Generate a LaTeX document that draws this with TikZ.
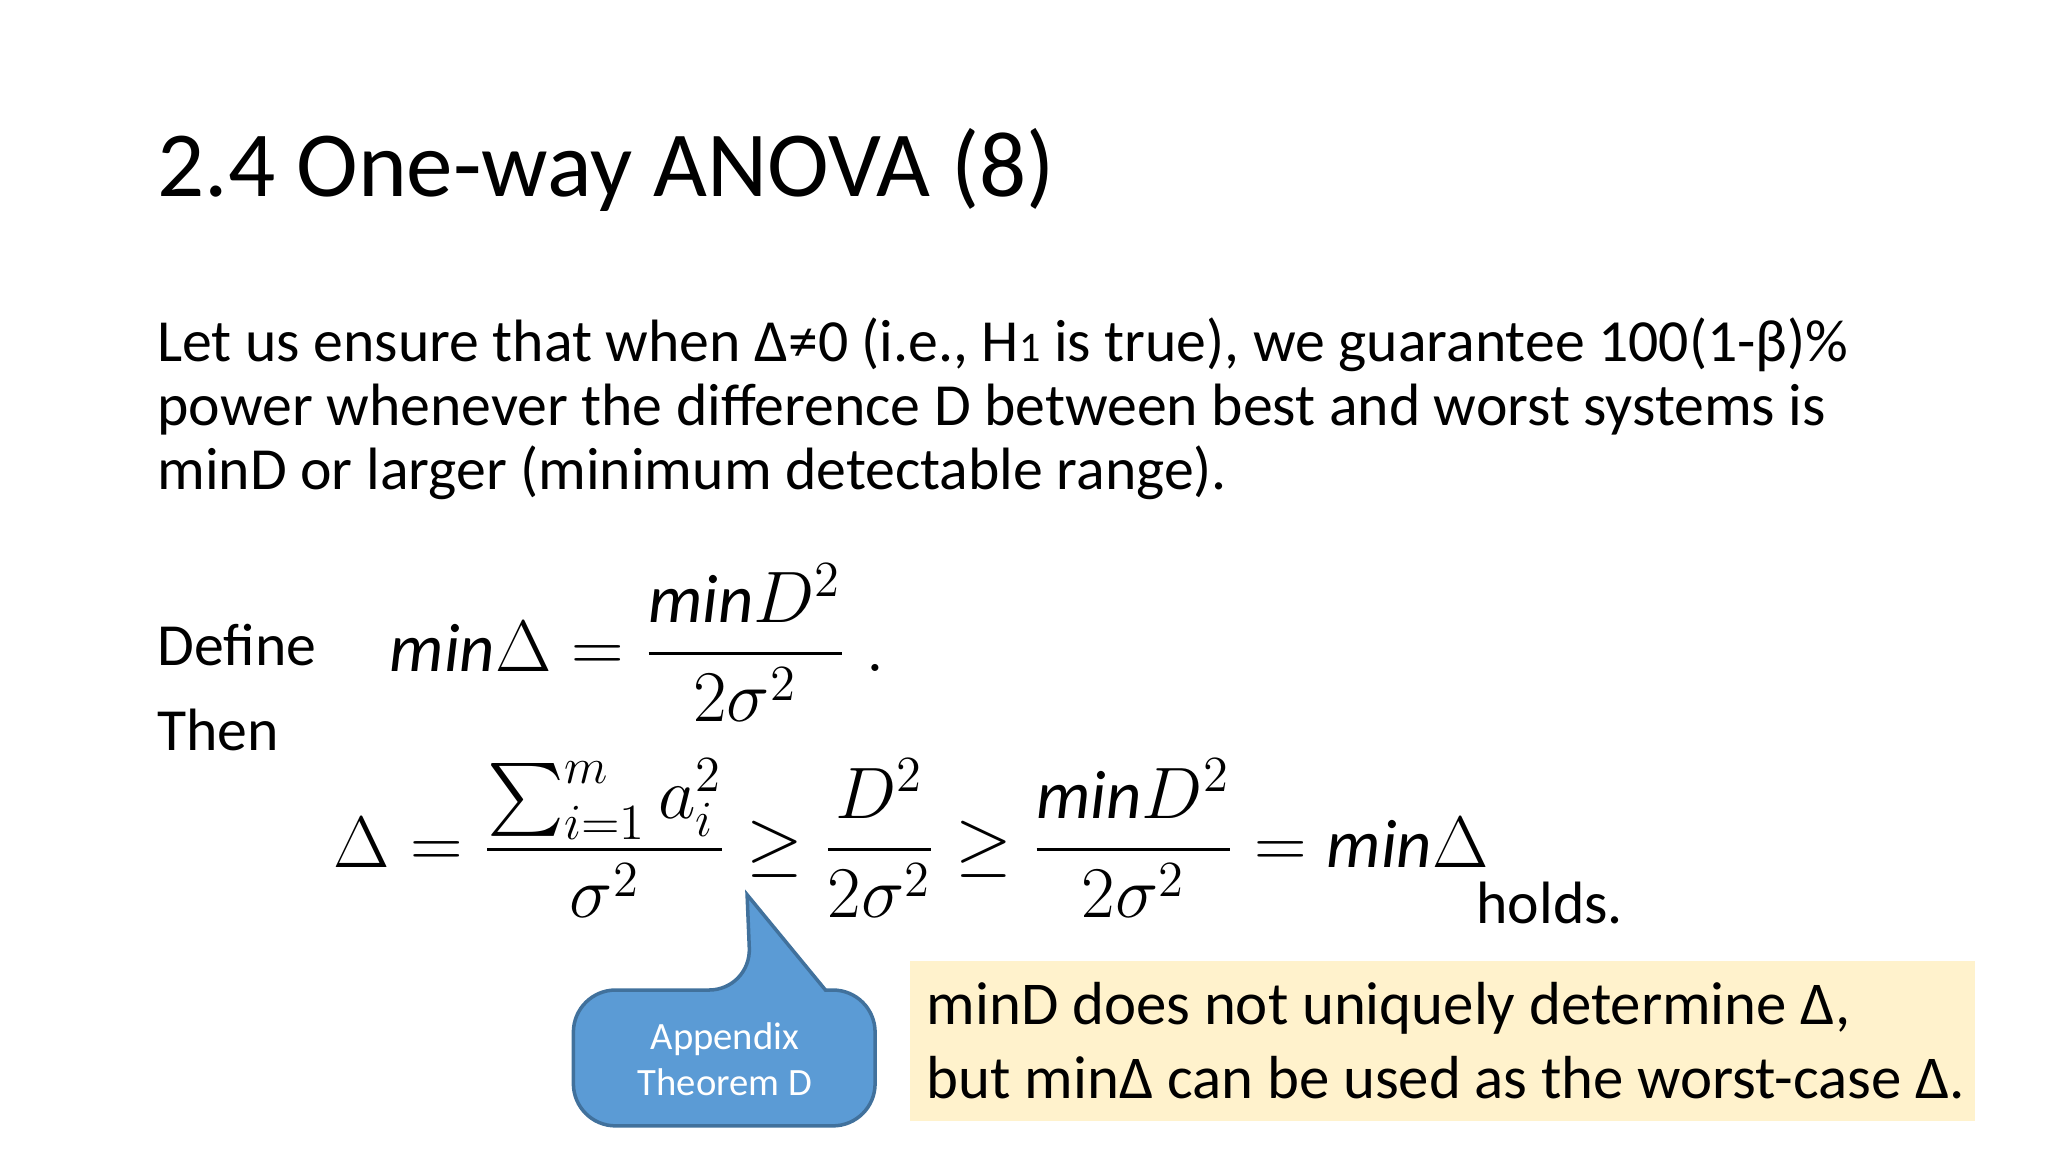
\documentclass[tikz,border=0pt]{standalone}
\usepackage{fontspec}
\setmainfont{Carlito}
\usepackage{amsmath}
\definecolor{cbfill}{RGB}{91,155,213}
\definecolor{cbdraw}{RGB}{65,113,156}
\definecolor{ybox}{RGB}{255,242,204}
\begin{document}
\begin{tikzpicture}[x=0.013061cm,y=-0.013061cm,
  body/.style={anchor=west,inner sep=0pt,font=\fontsize{17}{21}\selectfont},
  mth/.style={inner sep=0pt,font=\fontsize{19.5}{24}\selectfont}]
\useasboundingbox (0,0) rectangle (1568,882);
\node[anchor=west,inner sep=0pt,font=\fontsize{26.5}{30}\selectfont] (title) at (120,130) {2.4 One-way ANOVA (8)};
\node[body,align=left,font=\fontsize{17}{18.3}\selectfont] (para) at (120,313) {Let us ensure that when Δ≠0 (i.e., H{\fontsize{12}{12}\selectfont 1} is true), we guarantee 100(1-β)\%\\power whenever the difference D between best and worst systems is\\minD or larger (minimum detectable range).};
\node[body] (def) at (120,494) {Define};
\node[body] (then) at (120,559) {Then};
\node[mth,anchor=west] (eq1) at (298,492) {$\mathit{min}\Delta=\dfrac{\mathit{min}D^2}{2\sigma^2}\;.$};
\node[mth,anchor=west] (eq2) at (255,642) {$\Delta=\dfrac{\sum_{i=1}^{m}a_i^2}{\sigma^2}\geq\dfrac{D^2}{2\sigma^2}\geq\dfrac{\mathit{min}D^2}{2\sigma^2}=\mathit{min}\Delta$};
\node[body] (holds) at (1130,691) {holds.};
\draw[fill=cbfill,draw=cbdraw,line width=1pt,rounded corners=12pt]
  (439,758) -- (575,758) [sharp corners]-- (572,685) -- (632,758) [rounded corners=12pt]-- (670,758) -- (670,862) -- (439,862) -- cycle;
\node[align=center,text=white,font=\fontsize{11}{13}\selectfont] (app) at (555,811) {Appendix\\Theorem D};
\fill[ybox] (697,736) rectangle (1512,858);
\node[body,align=left,font=\fontsize{17.3}{21}\selectfont] (note) at (709,797) {minD does not uniquely determine Δ,\\but minΔ can be used as the worst-case Δ.};
\end{tikzpicture}
\end{document}
